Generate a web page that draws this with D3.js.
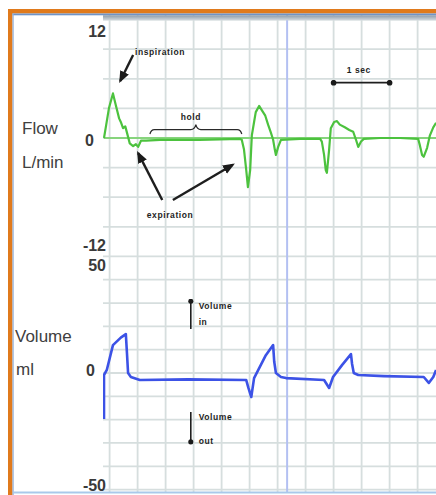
<!DOCTYPE html>
<html>
<head>
<meta charset="utf-8">
<script src="https://cdn.jsdelivr.net/npm/d3@7"></script>
<style>
  html, body { margin: 0; padding: 0; background: #fff; }
  svg { display: block; }
  text { font-family: "Liberation Sans", Arial, sans-serif; }
</style>
</head>
<body>
<script>
// ---- Data: flow trace (seconds, L/min) ----
const flowTime = [0, 0.04, 0.09, 0.16, 0.21, 0.27, 0.30, 0.34, 0.38, 0.41, 0.46, 0.52, 0.57, 0.61, 0.66, 0.75, 1.0, 1.7, 2.43,
  2.46, 2.50, 2.54, 2.57, 2.61, 2.64, 2.68, 2.71, 2.77, 2.82, 2.88, 2.93, 2.98, 3.02, 3.05, 3.07, 3.11, 3.16, 3.5, 3.86,
  3.89, 3.93, 3.96, 3.98, 4.02, 4.05, 4.11, 4.16, 4.21, 4.30, 4.38, 4.45, 4.50, 4.54, 4.59, 4.64, 4.93, 5.29, 5.61,
  5.64, 5.68, 5.71, 5.77, 5.82, 5.88, 5.93];
const flowValue = [0, 1.5, 3.4, 5.0, 3.7, 2.2, 1.8, 1.1, 1.3, 0.6, -0.6, -0.9, -0.7, -1.0, -0.3, -0.3, -0.2, -0.2, -0.1,
  -0.2, -1.3, -3.6, -5.5, -3.6, 0.3, 1.8, 2.9, 3.6, 3.1, 2.5, 1.5, 0.6, -0.2, -1.3, -1.9, -1.0, -0.2, -0.1, -0.1,
  -0.4, -1.9, -3.6, -3.9, -1.3, 1.1, 1.8, 1.9, 1.5, 1.2, 0.9, 0.7, -0.2, -1.0, -0.4, -0.1, 0, 0, -0.1,
  -0.8, -1.9, -2.1, -1.1, 0.3, 1.2, 1.7];

// ---- Data: volume trace (seconds, ml) ----
const volTime = [0, 0, 0.05, 0.16, 0.30, 0.39, 0.41, 0.43, 0.48, 0.64, 1.5, 2.54,
  2.58, 2.63, 2.68, 2.89, 3.02, 3.04, 3.07, 3.16, 3.25, 3.93,
  4.02, 4.09, 4.25, 4.41, 4.43, 4.46, 4.54, 5.0, 5.71,
  5.80, 5.88, 5.93];
const volValue = [-20, 0, 2.3, 13.6, 17.0, 18.6, 10, 0.9, -0.9, -2.3, -2.0, -2.3,
  -6.0, -10.0, -1.4, 9.0, 13.6, 6, 0.9, -0.9, -1.4, -2.3,
  -5.9, -0.9, 4.5, 9.5, 5, 0.9, 0, -0.5, -0.9,
  -3.6, -0.9, 2.3];

// ---- Axis ticks and titles ----
const flowTicks = [12, 0, -12];
const volTicks = [50, 0, -50];
const flowTitle = ["Flow", "L/min"];
const volTitle = ["Volume", "ml"];

const W = 436, H = 495;
const svg = d3.select("body").append("svg").attr("width", W).attr("height", H);

// scales
const x = d3.scaleLinear().domain([0, 6]).range([104, 440]);
const yFlow = d3.scaleLinear().domain([-12, 12]).range([245, 31]);
const yVol = d3.scaleLinear().domain([-50, 50]).range([485, 265]);

const plotLeft = 103, plotTop = 15, plotBottom = 492;

// recording paper grid (0.5 s columns, fixed rows per channel)
const grid = svg.append("g").attr("stroke", "#d6dede").attr("stroke-width", 1.8);
d3.range(0, 12).forEach(k => {
  const gx = x(0.1 + 0.5 * k);
  grid.append("line").attr("x1", gx).attr("x2", gx).attr("y1", plotTop).attr("y2", plotBottom);
});
const flowRows = d3.scaleLinear().domain([0, 8]).range([19.6, 256.4]);
const volRows = d3.scaleLinear().domain([0, 10]).range([256.4, 489.6]);
d3.range(0, 9).forEach(k => {
  grid.append("line").attr("x1", plotLeft).attr("x2", W).attr("y1", flowRows(k)).attr("y2", flowRows(k));
});
d3.range(1, 11).forEach(k => {
  grid.append("line").attr("x1", plotLeft).attr("x2", W).attr("y1", volRows(k)).attr("y2", volRows(k));
});

// cursor line
svg.append("line").attr("x1", x(3.27)).attr("x2", x(3.27)).attr("y1", plotTop).attr("y2", plotBottom)
  .attr("stroke", "#b3c0f2").attr("stroke-width", 2);

// frame
svg.append("rect").attr("x", 8).attr("y", 9).attr("width", W - 8).attr("height", 4.5).attr("fill", "#e07a1c");
svg.append("rect").attr("x", 8).attr("y", 9).attr("width", 4.5).attr("height", H - 9).attr("fill", "#e07a1c");
svg.append("rect").attr("x", 12.5).attr("y", 13.5).attr("width", W - 12.5).attr("height", 1.8).attr("fill", "#6f93c8");
svg.append("rect").attr("x", 12.5).attr("y", 13.5).attr("width", 1.2).attr("height", H - 13.5).attr("fill", "#8fb0dc");
svg.append("rect").attr("x", 13).attr("y", 491.5).attr("width", W - 13).attr("height", 2).attr("fill", "#a9c9ea");
const grad = svg.append("defs").append("linearGradient").attr("id", "bar").attr("x1", 0).attr("x2", 0).attr("y1", 0).attr("y2", 1);
grad.append("stop").attr("offset", "0%").attr("stop-color", "#8c9cab");
grad.append("stop").attr("offset", "100%").attr("stop-color", "#d3d9de");
svg.append("rect").attr("x", plotLeft).attr("y", 15.3).attr("width", W - plotLeft).attr("height", 5).attr("fill", "url(#bar)");

// traces
const clip = svg.append("defs").append("clipPath").attr("id", "plot");
clip.append("rect").attr("x", plotLeft).attr("y", plotTop).attr("width", W - plotLeft).attr("height", plotBottom - plotTop);

svg.append("line").attr("x1", x(0)).attr("x2", W).attr("y1", yFlow(0)).attr("y2", yFlow(0))
  .attr("stroke", "#6dd05c").attr("stroke-width", 1.6);

const flowLine = d3.line().x((d, i) => x(flowTime[i])).y(d => yFlow(d));
svg.append("path").attr("clip-path", "url(#plot)").attr("d", flowLine(flowValue))
  .attr("fill", "none").attr("stroke", "#4cc23e").attr("stroke-width", 2.2).attr("stroke-linejoin", "round");

const volLine = d3.line().x((d, i) => x(volTime[i])).y(d => yVol(d));
svg.append("path").attr("clip-path", "url(#plot)").attr("d", volLine(volValue))
  .attr("fill", "none").attr("stroke", "#3c52e6").attr("stroke-width", 2.6).attr("stroke-linejoin", "round");

// tick labels
const tickStyle = s => s.attr("text-anchor", "end").attr("font-size", 16).attr("font-weight", "bold")
  .attr("fill", "#3a3a3a").attr("dominant-baseline", "central");
svg.selectAll(".ft").data(flowTicks).join("text").call(tickStyle)
  .attr("x", d => d === 0 ? 94 : 106).attr("y", d => yFlow(d) + (d === 0 ? 2 : 0)).text(d => d);
svg.selectAll(".vt").data(volTicks).join("text").call(tickStyle)
  .attr("x", d => d === 0 ? 95 : 106).attr("y", d => yVol(d) + (d === 0 ? -5 : 0)).text(d => d);

// channel titles
const titleStyle = s => s.attr("font-size", 17).attr("fill", "#404040").attr("dominant-baseline", "central");
svg.append("text").call(titleStyle).attr("x", 22).attr("y", yFlow(1.1)).text(flowTitle[0]);
svg.append("text").call(titleStyle).attr("x", 22).attr("y", yFlow(-2.7)).text(flowTitle[1]);
svg.append("text").call(titleStyle).attr("x", 15).attr("y", yVol(17.3)).text(volTitle[0]);
svg.append("text").call(titleStyle).attr("x", 16).attr("y", yVol(2.3)).text(volTitle[1]);

// annotations
const defs = svg.select("defs");
defs.append("marker").attr("id", "head").attr("viewBox", "0 0 10 10").attr("refX", 8).attr("refY", 5)
  .attr("markerWidth", 5).attr("markerHeight", 5).attr("orient", "auto")
  .append("path").attr("d", "M0,1 L10,5 L0,9 Z").attr("fill", "#1a1a1a");
defs.append("marker").attr("id", "dot").attr("viewBox", "0 0 10 10").attr("refX", 5).attr("refY", 5)
  .attr("markerWidth", 3.5).attr("markerHeight", 3.5)
  .append("circle").attr("cx", 5).attr("cy", 5).attr("r", 4.5).attr("fill", "#1a1a1a");

const note = (t, y, str, anchor) => svg.append("text").attr("x", x(t)).attr("y", y)
  .attr("text-anchor", anchor || "middle").attr("dominant-baseline", "central")
  .attr("font-size", 8.5).attr("font-weight", "bold").attr("letter-spacing", 0.6).attr("fill", "#1e1e1e").text(str);
const arrow = (t1, y1, t2, y2, w, m) => svg.append("line").attr("x1", x(t1)).attr("y1", y1).attr("x2", x(t2)).attr("y2", y2)
  .attr("stroke", "#1e1e1e").attr("stroke-width", w).attr("marker-end", `url(#${m})`);

note(1.0, yFlow(9.6), "inspiration");
arrow(0.52, yFlow(9.3), 0.29, yFlow(6.4), 2.4, "head");

note(1.55, yFlow(2.35), "hold");
const brace = d3.path();
brace.moveTo(x(0.82), yFlow(0.45));
brace.quadraticCurveTo(x(0.84), yFlow(0.95), x(0.9), yFlow(0.95));
brace.lineTo(x(1.55), yFlow(0.95));
brace.quadraticCurveTo(x(1.62), yFlow(0.95), x(1.64), yFlow(1.5));
brace.quadraticCurveTo(x(1.66), yFlow(0.95), x(1.73), yFlow(0.95));
brace.lineTo(x(2.38), yFlow(0.95));
brace.quadraticCurveTo(x(2.44), yFlow(0.95), x(2.46), yFlow(0.45));
svg.append("path").attr("d", brace.toString()).attr("fill", "none").attr("stroke", "#2a2a2a").attr("stroke-width", 1.3);

note(1.18, yFlow(-8.6), "expiration");
arrow(1.04, yFlow(-6.95), 0.61, yFlow(-1.7), 2.4, "head");
arrow(1.23, yFlow(-6.95), 2.3, yFlow(-3.0), 2.4, "head");

note(4.55, yFlow(7.6), "1 sec");
svg.append("line").attr("x1", x(4.1)).attr("x2", x(5.1)).attr("y1", yFlow(6.2)).attr("y2", yFlow(6.2))
  .attr("stroke", "#1e1e1e").attr("stroke-width", 1.8)
  .attr("marker-start", "url(#dot)").attr("marker-end", "url(#dot)");

arrow(1.55, yVol(20.9), 1.55, yVol(33.5), 1.6, "dot");
note(1.69, yVol(31.4), "Volume", "start");
note(1.69, yVol(24), "in", "start");
arrow(1.55, yVol(-16.8), 1.55, yVol(-30.4), 1.6, "dot");
note(1.69, yVol(-19), "Volume", "start");
note(1.69, yVol(-30), "out", "start");
</script>
</body>
</html>
